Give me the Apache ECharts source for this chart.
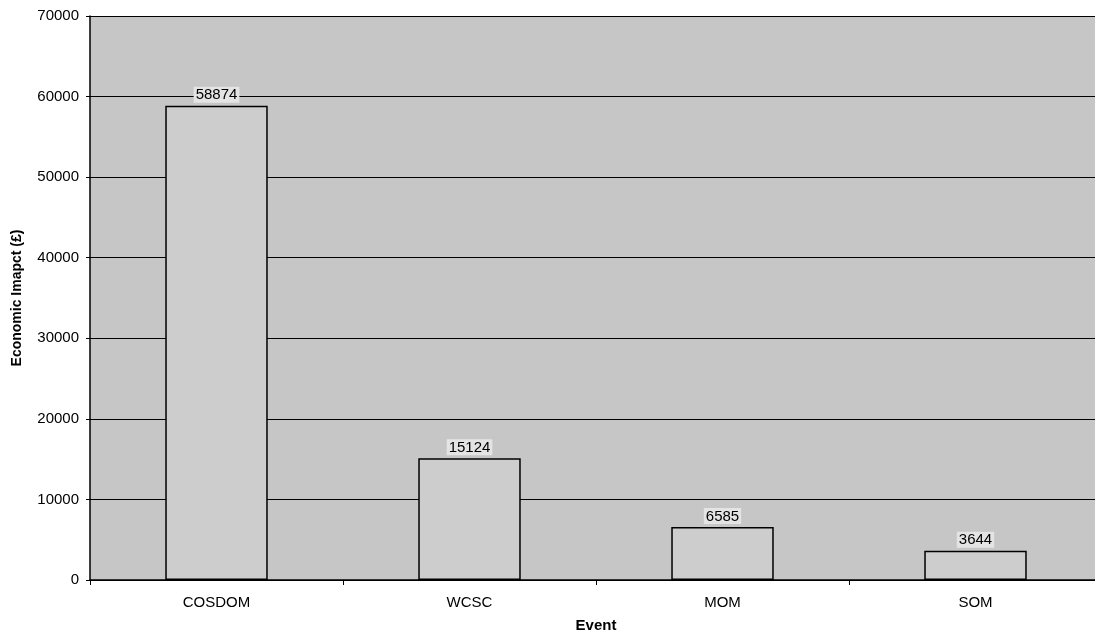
<!DOCTYPE html>
<html><head><meta charset="utf-8">
<script src="https://cdn.jsdelivr.net/npm/echarts@6/dist/echarts.min.js"></script>
<style>html,body{margin:0;padding:0;background:#fff;overflow:hidden;width:1095px;height:638px}#c{width:1104px;height:638px}</style>
</head><body><div id="c"></div>
<script>
const categories = ['COSDOM', 'WCSC', 'MOM', 'SOM'];
const impact = [58874, 15124, 6585, 3644];
const yTicks = [0, 10000, 20000, 30000, 40000, 50000, 60000, 70000];

const chart = echarts.init(document.getElementById('c'), null, {renderer: 'canvas'});
chart.setOption({
  animation: false,
  backgroundColor: '#ffffff',
  textStyle: {fontFamily: 'Liberation Sans, Arial, sans-serif'},
  grid: {left: 90, right: 2, top: 16, bottom: 57, show: true, backgroundColor: '#c6c6c6', borderWidth: 0},
  xAxis: {
    type: 'category', data: categories,
    name: 'Event', nameLocation: 'middle', nameGap: 38,
    nameTextStyle: {fontWeight: 'bold', fontSize: 15, color: '#000'},
    axisLine: {lineStyle: {color: '#000', width: 1.5}},
    axisTick: {show: true, alignWithLabel: false, length: 5, lineStyle: {color: '#000'}},
    axisLabel: {color: '#000', fontSize: 15, margin: 15}
  },
  yAxis: {
    type: 'value', min: yTicks[0], max: yTicks[yTicks.length - 1], interval: 10000,
    name: 'Economic Imapct (£)', nameLocation: 'middle', nameGap: 66, nameRotate: 90,
    nameTextStyle: {fontWeight: 'bold', fontSize: 14, color: '#000'},
    axisLine: {show: true, lineStyle: {color: '#000', width: 1.5}},
    axisTick: {show: true, length: 4, lineStyle: {color: '#000'}},
    axisLabel: {color: '#000', fontSize: 15, margin: 11, formatter: v => String(v)},
    splitLine: {show: true, lineStyle: {color: '#000', width: 1}}
  },
  series: [{
    type: 'bar', data: impact, barWidth: '40.5%',
    itemStyle: {color: '#cdcdcd', borderColor: '#000', borderWidth: 1.5},
    label: {show: true, position: 'top', distance: 3, color: '#000', fontSize: 15,
      backgroundColor: '#e4e4e4', padding: [1, 2, 0, 2]}
  }]
});
</script></body></html>
